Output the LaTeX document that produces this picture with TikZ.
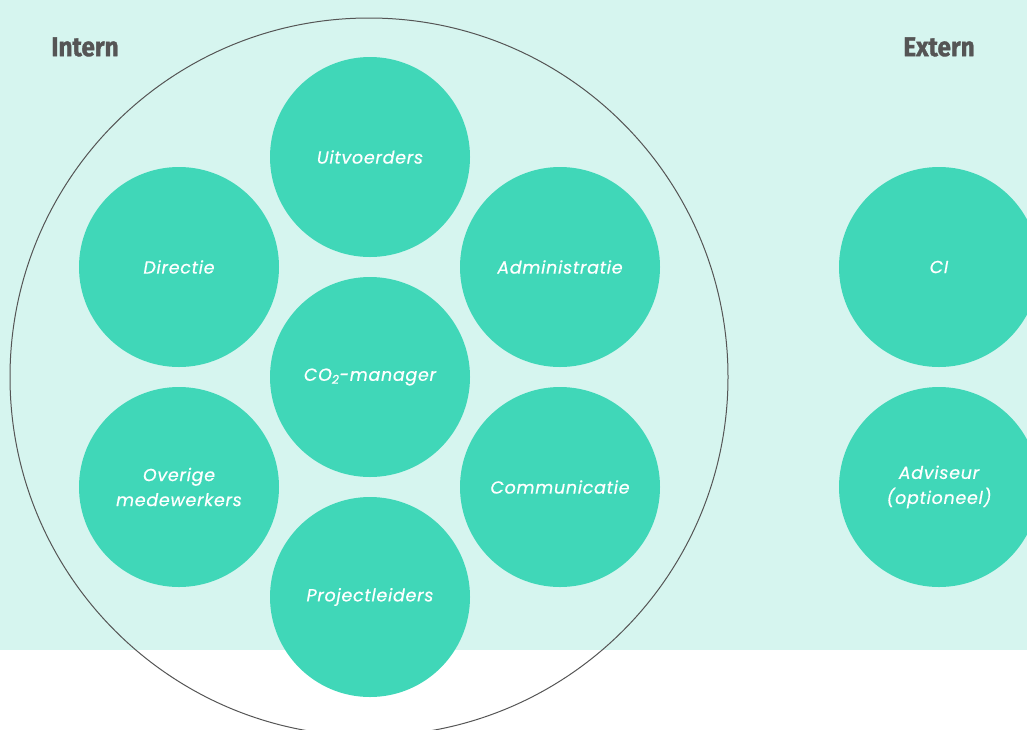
\documentclass[tikz,border=0pt]{standalone}
\usepackage{fontspec}
\setmainfont{Poppins}[LetterSpace=4,FakeBold=0.5]
\newfontfamily\headfont[FakeStretch=0.9,FakeBold=1.2]{Fira Sans}
\usepackage{tikz}
\definecolor{mintbg}{HTML}{D6F5EF}
\definecolor{teal}{HTML}{40D7B8}
\definecolor{darkgrey}{HTML}{555555}

\begin{document}
\begin{tikzpicture}[x=1pt,y=-1pt,
    role node/.style={circle,fill=teal,minimum size=200pt,inner sep=0pt,
      text=white,align=center,font=\fontsize{17.5}{25}\selectfont\itshape},
    side label/.style={text=darkgrey,font=\headfont\bfseries\fontsize{27}{30}\selectfont}]
    \clip (0,0) rectangle (1027,729);
    \fill[mintbg] (0,0) rectangle (1027,650);

    % intern
    \node[role node] (co2) at (370,377) {CO\textsubscript{2}-manager};
    \node[role node] (uit) at (370,157) {Uitvoerders};
    \node[role node] (dir) at (179,267) {Directie};
    \node[role node] (adm) at (560,267) {Administratie};
    \node[role node] (ovr) at (179,487) {Overige\\medewerkers};
    \node[role node] (com) at (560,487) {Communicatie};
    \node[role node] (pro) at (370,597) {Projectleiders};
    \draw[darkgrey,line width=1pt] (369,377) circle (359);

    % extern
    \node[role node] (ci) at (939,267) {CI};
    \node[role node] (adv) at (939,487) {Adviseur\\(optioneel)};

    \node[side label] (intern) at (85,47) {Intern};
    \node[side label] (extern) at (939,47) {Extern};
  \end{tikzpicture}
\end{document}
